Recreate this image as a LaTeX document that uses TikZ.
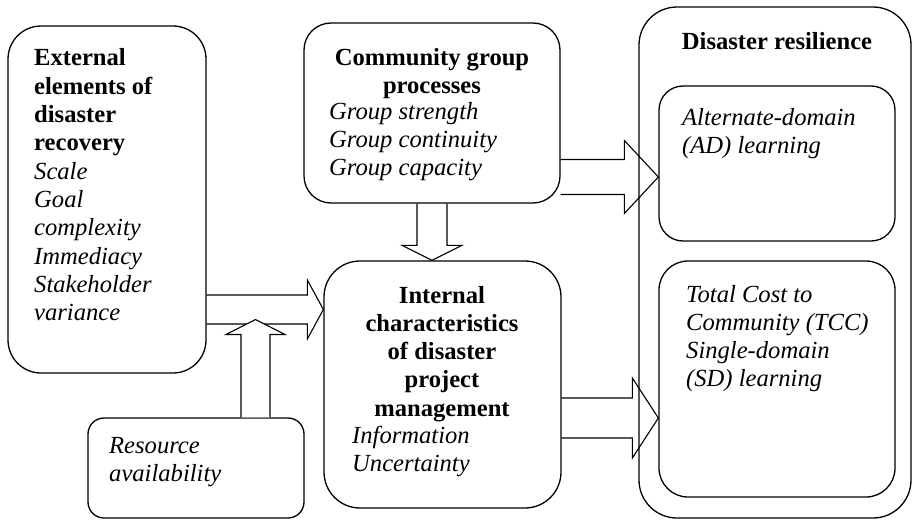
\documentclass[tikz,border=0pt]{standalone}
\usepackage{fontspec}
\setmainfont{Liberation Serif}
\usetikzlibrary{calc}

% block arrow pointing right: [style] from, tip, shaft half, head half, head length
\newcommand{\rightblock}[6][]{%
  \draw [blockarr, #1] let \p1=(#2), \p2=(#3) in
    (\x1,\y2+#4) -- (\x2-#6,\y2+#4) -- (\x2-#6,\y2+#5) -- (\x2,\y2) --
    (\x2-#6,\y2-#5) -- (\x2-#6,\y2-#4) -- (\x1,\y2-#4);}
% vertical block arrow: head length > 0 points up, < 0 points down
\newcommand{\vblock}[6][]{%
  \draw [blockarr, #1] let \p1=(#2), \p2=(#3), \n1={\y2-(#6)} in
    (\x2-#4,\y1) -- (\x2-#4,\n1) -- (\x2-#5,\n1) -- (\x2,\y2) --
    (\x2+#5,\n1) -- (\x2+#4,\n1) -- (\x2+#4,\y1);}

\newcommand{\fsz}{\fontsize{24.6}{28.3}\selectfont}
\newcommand{\lines}[1]{\begin{tabular}[t]{@{}l@{}}#1\end{tabular}}
\newcommand{\clines}[1]{\begin{tabular}[t]{@{}c@{}}#1\end{tabular}}

\tikzset{
  box/.style={draw, line width=1.3pt, rounded corners=#1, inner sep=0pt},
  box/.default=30pt,
  heading/.style={font=\fsz\bfseries, inner sep=0pt, anchor=base},
  entries/.style={font=\fsz\itshape, inner sep=0pt, anchor=base west},
  blockarr/.style={line width=1.1pt, line join=miter}
}

\begin{document}
\begin{tikzpicture}[x=1pt, y=1pt]

\def\W{912}
\def\H{519}
\useasboundingbox (0,0) rectangle (\W,-\H);

% BOXES
\node [box=33pt, minimum width=198pt, minimum height=347pt] (ext) at (107,-199.5) {};
\node [box=16pt, minimum width=216pt, minimum height=100pt] (res) at (196,-468) {};
\node [box=27pt, minimum width=256pt, minimum height=180pt] (com) at (432,-113) {};
\node [box=36pt, minimum width=237pt, minimum height=247pt] (int) at (442.5,-384.5) {};
\node [box=38pt, minimum width=272pt, minimum height=511pt] (dr) at (775,-262.5) {};
\node [box=24pt, minimum width=236pt, minimum height=155pt] (ad) at (777,-163.5) {};
\node [box=29pt, minimum width=236pt, minimum height=236pt] (tcc) at (777,-379) {};

% TEXT
\node [entries, font=\fsz] (extT) at (34,-66) {\lines{\textbf{External}\\ \textbf{elements of}\\
  \textbf{disaster}\\ \textbf{recovery}\\ \textit{Scale}\\ \textit{Goal}\\ \textit{complexity}\\
  \textit{Immediacy}\\ \textit{Stakeholder}\\ \textit{variance}}};
\node [heading] (comT) at (432,-65) {\clines{Community group\\ processes}};
\node [entries] (comL) at (329,-119) {\lines{Group strength\\ Group continuity\\ Group capacity}};
\node [heading] (intT) at (442,-303) {\clines{Internal\\ characteristics\\ of disaster\\
  project\\ management}};
\node [entries] (intL) at (352,-443) {\lines{Information\\ Uncertainty}};
\node [entries] (resL) at (109,-453) {\lines{Resource\\ availability}};
\node [heading] (drT) at (777,-50) {Disaster resilience};
\node [entries] (adL) at (682,-125) {\lines{Alternate-domain\\ (AD) learning}};
\node [entries] (tccL) at (686,-302) {\lines{Total Cost to\\ Community (TCC)\\
  Single-domain\\ (SD) learning}};

% ARROWS
\coordinate (rtip) at (255.5,-319.5);
\rightblock{ext.east}{[yshift=75pt]int.west}{14.5pt}{29.5pt}{16pt}
\vblock[fill=white]{[xshift=59.5pt]res.north}{rtip}{14.5pt}{29.5pt}{15pt}
\vblock{com.south}{[xshift=-10.5pt]int.north}{15pt}{30pt}{-15pt}
\rightblock{com.east}{[yshift=-13.5pt]ad.west}{17.5pt}{36.5pt}{34pt}
\rightblock{int.east}{[yshift=-39pt]tcc.west}{20pt}{40pt}{26pt}

\end{tikzpicture}
\end{document}
